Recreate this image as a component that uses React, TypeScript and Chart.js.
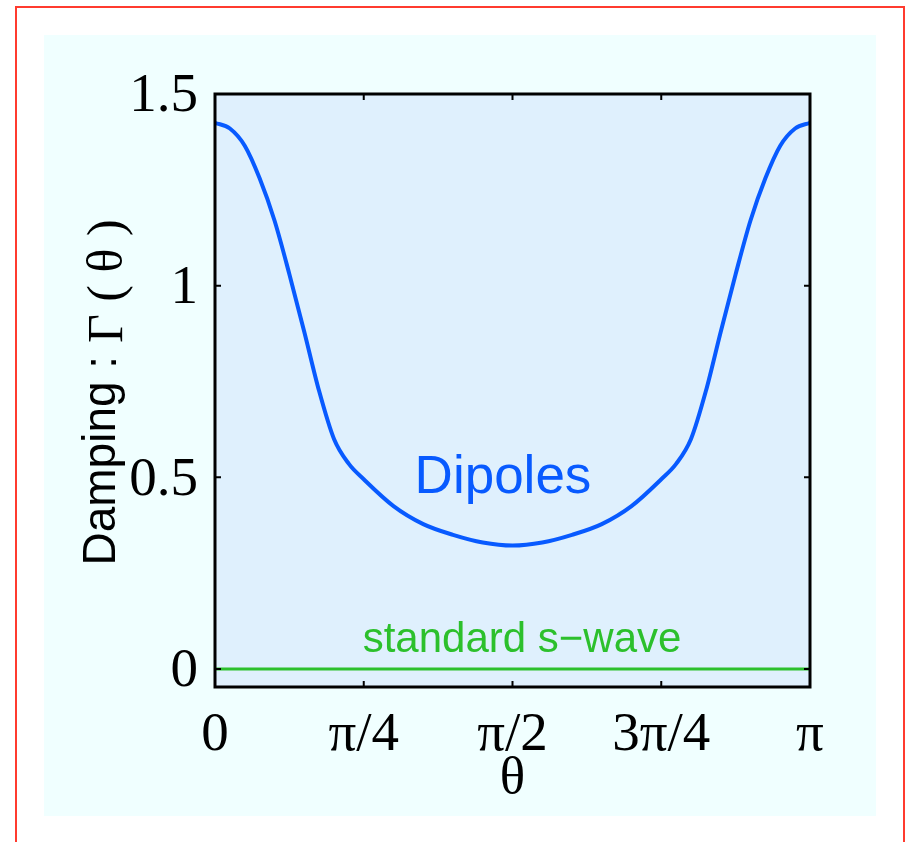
import React, { useEffect, useRef } from 'react';
import { Chart, registerables } from 'chart.js';

Chart.register(...registerables);

// ---- data (theta expressed in units of pi) ----
const thetaOverPi = [
  0, 0.025, 0.05, 0.075, 0.1, 0.125, 0.15, 0.175, 0.2, 0.225, 0.25, 0.3, 0.35, 0.4, 0.45, 0.5,
  0.55, 0.6, 0.65, 0.7, 0.75, 0.775, 0.8, 0.825, 0.85, 0.875, 0.9, 0.925, 0.95, 0.975, 1,
];
const dipoleGamma = [
  1.425, 1.41, 1.365, 1.28, 1.17, 1.03, 0.88, 0.725, 0.6, 0.535, 0.495, 0.425, 0.378, 0.35, 0.33, 0.322,
  0.33, 0.35, 0.378, 0.425, 0.495, 0.535, 0.6, 0.725, 0.88, 1.03, 1.17, 1.28, 1.365, 1.41, 1.425,
];
const sWaveTheta = [0, 1];
const sWaveGamma = [0, 0];

const xTickValues = [0, 0.25, 0.5, 0.75, 1];
const xTickLabels = ['0', 'π/4', 'π/2', '3π/4', 'π'];
const yTickValues = [0, 0.5, 1, 1.5];
const yTickLabels = ['0', '0.5', '1', '1.5'];
const yMin = -0.047;
const yMax = 1.5;

const xTitle = 'θ';
const yTitleParts = ['Damping', ' : ', 'Γ', ' ( ', 'θ', ' )'];
const curveLabels = ['Dipoles', 'standard s−wave'];

// ---- styles ----
const BLUE = 'rgb(8,90,255)';
const GREEN = 'rgb(44,192,44)';
const PLOT_BG = '#dff0fd';
const PAGE_BG = '#f0ffff';
const SERIF = '"Liberation Serif", "Times New Roman", serif';
const SANS = '"Liberation Sans", Arial, sans-serif';

const framePlugin = {
  id: 'matlabFrame',
  beforeDraw(chart: any) {
    const { ctx, chartArea: a } = chart;
    ctx.save();
    ctx.fillStyle = PLOT_BG;
    ctx.fillRect(a.left, a.top, a.right - a.left, a.bottom - a.top);
    ctx.restore();
  },
  afterDatasetsDraw(chart: any) {
    const { ctx, chartArea: a } = chart;
    const xs = chart.scales.x;
    const ys = chart.scales.y;
    ctx.save();
    // inward ticks on all four sides
    ctx.strokeStyle = '#000';
    ctx.lineWidth = 2;
    const tl = 6;
    ctx.beginPath();
    xTickValues.forEach((v) => {
      const px = xs.getPixelForValue(v);
      ctx.moveTo(px, a.bottom);
      ctx.lineTo(px, a.bottom - tl);
      ctx.moveTo(px, a.top);
      ctx.lineTo(px, a.top + tl);
    });
    yTickValues.forEach((v) => {
      const py = ys.getPixelForValue(v);
      ctx.moveTo(a.left, py);
      ctx.lineTo(a.left + tl, py);
      ctx.moveTo(a.right, py);
      ctx.lineTo(a.right - tl, py);
    });
    ctx.stroke();
    // box
    ctx.lineWidth = 3;
    ctx.strokeRect(a.left, a.top, a.right - a.left, a.bottom - a.top);

    // curve labels
    ctx.textAlign = 'center';
    ctx.textBaseline = 'alphabetic';
    ctx.fillStyle = BLUE;
    ctx.font = `53px ${SANS}`;
    ctx.fillText(curveLabels[0], xs.getPixelForValue(0.484), ys.getPixelForValue(0.46));
    ctx.fillStyle = GREEN;
    ctx.font = `42px ${SANS}`;
    ctx.fillText(curveLabels[1], xs.getPixelForValue(0.516), ys.getPixelForValue(0.045));
    ctx.restore();
  },
  afterDraw(chart: any) {
    const { ctx, chartArea: a } = chart;
    // rotated y-axis title with mixed fonts
    const fonts = [
      `46px ${SANS}`, `46px ${SANS}`, `50px ${SERIF}`, `50px ${SERIF}`, `50px ${SERIF}`, `50px ${SERIF}`,
    ];
    const shifts = [0, 1, 7, 7, 7, 7];
    ctx.save();
    let total = 0;
    const widths = yTitleParts.map((t, i) => {
      ctx.font = fonts[i];
      const w = ctx.measureText(t).width;
      total += w;
      return w;
    });
    const cy = (a.top + a.bottom) / 2 + 2;
    const baseX = 115;
    ctx.translate(baseX, cy);
    ctx.rotate(-Math.PI / 2);
    ctx.fillStyle = '#000';
    ctx.textAlign = 'left';
    ctx.textBaseline = 'alphabetic';
    let pos = -total / 2;
    yTitleParts.forEach((t, i) => {
      ctx.font = fonts[i];
      ctx.fillText(t, pos, shifts[i]);
      pos += widths[i];
    });
    ctx.restore();
  },
};

export default function App() {
  const canvasRef = useRef<HTMLCanvasElement | null>(null);

  useEffect(() => {
    const canvas = canvasRef.current;
    if (!canvas) return;
    const chart = new Chart(canvas, {
      type: 'line',
      data: {
        datasets: [
          {
            label: 'Dipoles',
            data: thetaOverPi.map((t, i) => ({ x: t, y: dipoleGamma[i] })),
            borderColor: BLUE,
            borderWidth: 4,
            pointRadius: 0,
            cubicInterpolationMode: 'monotone',
            fill: false,
          },
          {
            label: 'standard s-wave',
            data: sWaveTheta.map((t, i) => ({ x: t, y: sWaveGamma[i] })),
            borderColor: GREEN,
            borderWidth: 3,
            pointRadius: 0,
            fill: false,
          },
        ],
      },
      options: {
        animation: false,
        responsive: false,
        devicePixelRatio: 1,
        layout: { padding: { left: 0, top: 94, right: 99, bottom: 0 } },
        plugins: {
          legend: { display: false },
          tooltip: { enabled: false },
        },
        scales: {
          x: {
            type: 'linear',
            min: 0,
            max: 1,
            grid: { display: false },
            border: { display: false },
            afterBuildTicks: (scale: any) => {
              scale.ticks = xTickValues.map((v) => ({ value: v }));
            },
            afterFit: (scale: any) => {
              scale.height = 155;
            },
            ticks: {
              autoSkip: false,
              maxRotation: 0,
              minRotation: 0,
              padding: 8,
              color: '#000',
              font: { family: SERIF, size: 55 },
              callback: (value: any) => {
                const idx = xTickValues.indexOf(Number(value));
                return idx >= 0 ? xTickLabels[idx] : '';
              },
            },
            title: {
              display: true,
              text: xTitle,
              color: '#000',
              font: { family: SERIF, size: 53 },
              padding: { top: 0, bottom: 31 },
            },
          },
          y: {
            type: 'linear',
            min: yMin,
            max: yMax,
            grid: { display: false },
            border: { display: false },
            afterBuildTicks: (scale: any) => {
              scale.ticks = yTickValues.map((v) => ({ value: v }));
            },
            afterFit: (scale: any) => {
              scale.width = 215;
            },
            ticks: {
              autoSkip: false,
              padding: 9,
              labelOffset: 3,
              color: '#000',
              font: { family: SERIF, size: 55 },
              callback: (value: any) => {
                const idx = yTickValues.indexOf(Number(value));
                return idx >= 0 ? yTickLabels[idx] : '';
              },
            },
          },
        },
      },
      plugins: [framePlugin],
    } as any);
    return () => chart.destroy();
  }, []);

  return (
    <div style={{ position: 'absolute', left: 0, top: 0, width: 909, height: 842, overflow: 'hidden', background: '#fff' }}>
      <div
        style={{
          position: 'absolute',
          left: 15,
          top: 6,
          width: 890,
          height: 860,
          border: '2px solid #ff3b2f',
          boxSizing: 'border-box',
        }}
      />
      <div style={{ position: 'absolute', left: 44, top: 35, width: 832, height: 781, background: PAGE_BG }} />
      <canvas ref={canvasRef} width={909} height={842} style={{ position: 'absolute', left: 0, top: 0 }} />
    </div>
  );
}
